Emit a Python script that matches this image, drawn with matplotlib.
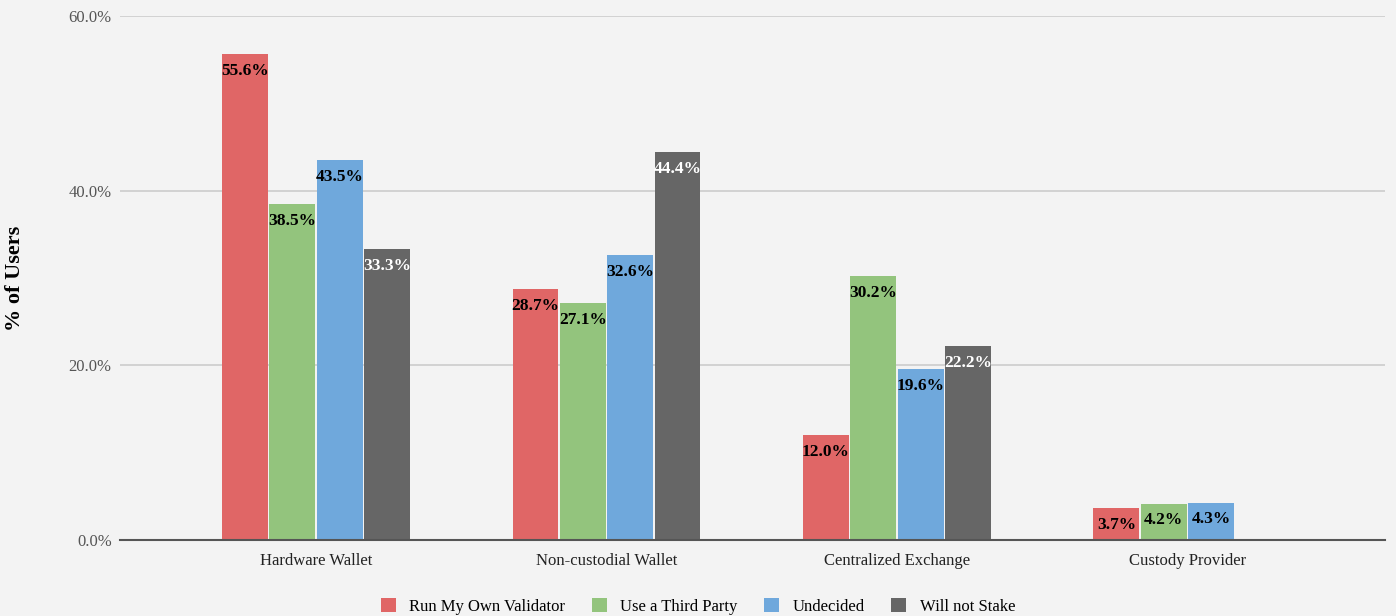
import matplotlib
matplotlib.use("Agg")
import matplotlib.pyplot as plt
import numpy as np
from matplotlib.ticker import FuncFormatter
from matplotlib.patches import Patch

categories = ["Hardware Wallet", "Non-custodial Wallet", "Centralized Exchange", "Custody Provider"]
series_names = ["Run My Own Validator", "Use a Third Party", "Undecided", "Will not Stake"]
run_own = [55.6, 28.7, 12.0, 3.7]
third_party = [38.5, 27.1, 30.2, 4.2]
undecided = [43.5, 32.6, 19.6, 4.3]
will_not = [33.3, 44.4, 22.2, None]
series_values = [run_own, third_party, undecided, will_not]
colors = ["#e06666", "#93c47d", "#6fa8dc", "#666666"]
label_colors = ["black", "black", "black", "white"]
y_ticks = [0, 20, 40, 60]

plt.rcParams['font.family'] = ['Liberation Serif', 'DejaVu Serif']

fig = plt.figure(figsize=(13.96, 6.16), dpi=100, facecolor="#f3f3f3")
ax = fig.add_axes([0.086, 0.123, 0.906, 0.851], facecolor="#f3f3f3")

x = np.arange(len(categories))
step = 0.163
width = 0.158
for i, (vals, col, lc) in enumerate(zip(series_values, colors, label_colors)):
    off = (i - 1.5) * step
    for xi, v in zip(x, vals):
        if v is None:
            continue
        ax.bar(xi + off, v, width=width, color=col, edgecolor="none", zorder=3)
        ax.annotate(f"{v:.1f}%", (xi + off, v), xytext=(0, -12), textcoords="offset points",
                    ha="center", va="center", fontsize=12.5, fontweight="bold", color=lc, zorder=4)

ax.set_xlim(-0.675, 3.68)
ax.set_ylim(0, 60)
ax.set_yticks(y_ticks)
ax.yaxis.set_major_formatter(FuncFormatter(lambda v, p: f"{v:.1f}%"))
ax.set_xticks(x)
ax.set_xticklabels(categories, fontsize=12, color="#222222")
ax.tick_params(axis="x", length=0, pad=9)
ax.tick_params(axis="y", length=0, pad=6, labelsize=12, labelcolor="#555555")
ax.grid(axis="y", color="#cccccc", linewidth=1.2, zorder=0)
for s in ["top", "right", "left"]:
    ax.spines[s].set_visible(False)
ax.spines["bottom"].set_color("#555555")
ax.spines["bottom"].set_linewidth(1.5)
ax.spines["bottom"].set_zorder(5)
ax.set_ylabel("% of Users", fontsize=16, fontweight="bold")
ax.yaxis.set_label_coords(-0.075, 0.5)

handles = [Patch(facecolor=c, edgecolor="none") for c in colors]
fig.legend(handles, series_names, loc="lower center", bbox_to_anchor=(0.5, -0.022), ncol=4,
           frameon=False, fontsize=12, handlelength=0.9, handleheight=0.9, columnspacing=1.6,
           handletextpad=0.8)

fig.savefig("out.png", dpi=100, facecolor=fig.get_facecolor())
